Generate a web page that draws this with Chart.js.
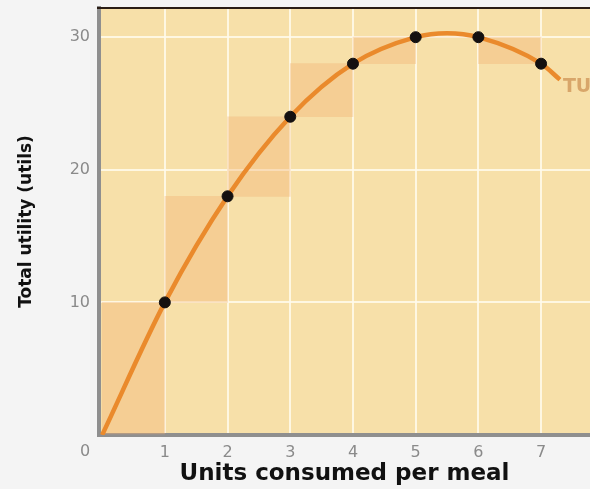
<!DOCTYPE html>
<html>
<head>
<meta charset="utf-8">
<script src="https://cdn.jsdelivr.net/npm/chart.js@4.4.1/dist/chart.umd.min.js"></script>
<style>
  html, body { margin: 0; padding: 0; background: #f4f4f4; }
  #wrap { width: 590px; height: 489px; }
</style>
</head>
<body>
<div id="wrap"><canvas id="c" width="590" height="489"></canvas></div>
<script>
// Total utility per unit consumed
const units = [0, 1, 2, 3, 4, 5, 6, 7];
const totalUtility = [0, 10, 18, 24, 28, 30, 30, 28];
// Points along the smooth TU curve (includes the peak and the tail past 7 units)
const curveUnits = [0, 1, 2, 3, 4, 5, 5.5, 6, 7, 7.3];
const curveUtility = [0, 10, 18, 24, 28, 30, 30.3, 30, 28, 26.8];
const xTickValues = [0, 1, 2, 3, 4, 5, 6, 7];
const yTickValues = [0, 10, 20, 30];
const curveName = 'TU';
const xTitle = 'Units consumed per meal';
const yTitle = 'Total utility (utils)';

// Step blocks: the utility added by each extra unit
const stepBlocks = [];
for (let i = 1; i < units.length; i++) {
  const a = totalUtility[i - 1], b = totalUtility[i];
  stepBlocks.push({ x: (units[i - 1] + units[i]) / 2, y: [Math.min(a, b), Math.max(a, b)] });
}

const FONT = "'DejaVu Sans', sans-serif";
const GRID = 'rgba(255,250,236,0.85)';

const framePlugin = {
  id: 'frame',
  beforeDraw(chart) {
    const { ctx, chartArea: a } = chart;
    ctx.save();
    ctx.fillStyle = '#f7e0a9';
    ctx.fillRect(a.left, a.top, a.right - a.left, a.bottom - a.top);
    ctx.restore();
  },
  afterDraw(chart) {
    const { ctx, chartArea: a, scales } = chart;
    ctx.save();
    // dark rule along the top edge
    ctx.strokeStyle = '#2a1d15';
    ctx.lineWidth = 2;
    ctx.beginPath();
    ctx.moveTo(a.left - 2, a.top);
    ctx.lineTo(a.right, a.top);
    ctx.stroke();
    // shared origin label
    ctx.fillStyle = '#8a8a8a';
    ctx.font = "16px " + FONT;
    ctx.textAlign = 'center';
    ctx.textBaseline = 'middle';
    ctx.fillText(String(xTickValues[0]), a.left - 14, a.bottom + 17);
    // curve name at the end of the TU line
    const n = curveUnits.length - 1;
    const px = scales.x.getPixelForValue(curveUnits[n]);
    const py = scales.y.getPixelForValue(curveUtility[n]);
    ctx.fillStyle = '#d8a66a';
    ctx.font = "bold 19px " + FONT;
    ctx.textAlign = 'left';
    ctx.fillText(curveName, px + 3, py + 7);
    ctx.restore();
  }
};

new Chart(document.getElementById('c'), {
  data: {
    datasets: [
      {
        type: 'line',
        label: curveName,
        data: curveUnits.map((x, i) => ({ x, y: curveUtility[i] })),
        borderColor: '#ea8a2c',
        borderWidth: 4.5,
        pointRadius: 0,
        cubicInterpolationMode: 'monotone',
        fill: false,
        order: 2
      },
      {
        type: 'scatter',
        label: 'points',
        data: units.slice(1).map((x, i) => ({ x, y: totalUtility[i + 1] })),
        backgroundColor: '#141010',
        borderColor: '#141010',
        pointRadius: 5.5,
        order: 1
      },
      {
        type: 'bar',
        label: 'blocks',
        data: stepBlocks,
        backgroundColor: 'rgba(241,176,112,0.36)',
        borderWidth: 0,
        barPercentage: 1,
        categoryPercentage: 1,
        order: 3
      }
    ]
  },
  options: {
    responsive: false,
    devicePixelRatio: 1,
    animation: false,
    layout: { autoPadding: false, padding: { top: 8, left: 10, right: 0, bottom: 0 } },
    plugins: { legend: { display: false }, tooltip: { enabled: false } },
    scales: {
      x: {
        type: 'linear',
        min: -0.05,
        max: 7.78,
        offset: false,
        afterFit(s) { s.height = 54; s.paddingLeft = 0; s.paddingRight = 0; },
        ticks: {
          stepSize: 1,
          includeBounds: false,
          color: '#8a8a8a',
          font: { family: FONT, size: 16 },
          padding: 8,
          callback: (v) => (v === xTickValues[0] ? '' : String(v))
        },
        grid: {
          offset: false,
          drawTicks: false,
          lineWidth: 2,
          color: (c) => (c.tick && c.tick.value === 0 ? 'rgba(0,0,0,0)' : GRID)
        },
        border: { color: '#8f8f8f', width: 4 },
        title: {
          display: true,
          text: xTitle,
          color: '#111',
          font: { family: FONT, size: 23, weight: 'bold' },
          padding: { top: 0, bottom: 1 }
        }
      },
      y: {
        type: 'linear',
        min: 0,
        max: 32.2,
        afterFit(s) { s.width = 89; s.paddingTop = 0; s.paddingBottom = 0; },
        ticks: {
          stepSize: 10,
          includeBounds: false,
          color: '#8a8a8a',
          font: { family: FONT, size: 16 },
          padding: 9,
          callback: (v) => (yTickValues.includes(v) && v !== 0 ? String(v) : '')
        },
        grid: {
          drawTicks: false,
          lineWidth: 2,
          color: (c) => (c.tick && c.tick.value === 0 ? 'rgba(0,0,0,0)' : GRID)
        },
        border: { color: '#8f8f8f', width: 4 },
        title: {
          display: true,
          text: yTitle,
          color: '#111',
          font: { family: FONT, size: 17, weight: 'bold' },
          padding: { top: 6, bottom: 0 }
        }
      }
    }
  },
  plugins: [framePlugin]
});
</script>
</body>
</html>
